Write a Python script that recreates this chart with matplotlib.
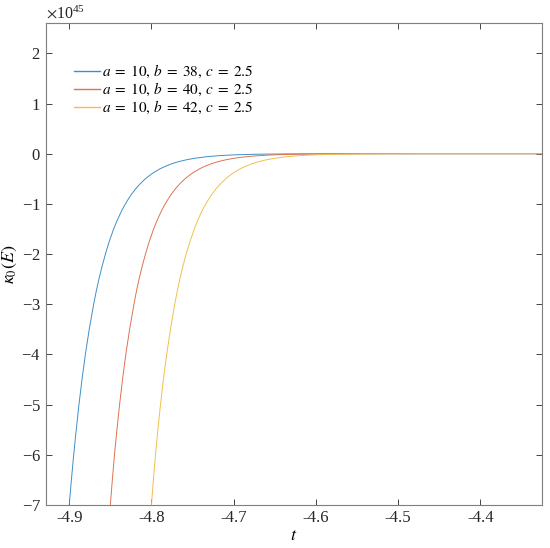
import matplotlib
matplotlib.use("Agg")
import matplotlib.pyplot as plt
from matplotlib.ticker import ScalarFormatter

plt.rcParams['font.family'] = ['Liberation Serif', 'DejaVu Serif']
plt.rcParams['mathtext.fontset'] = 'stix'
plt.rcParams['axes.unicode_minus'] = False

# curve values (y in units of 1e45)
y_levels = [-7, -6.5, -6, -5.5, -5, -4.5, -4, -3.5, -3, -2.75, -2.5, -2.25, -2,
            -1.75, -1.5, -1.35, -1.2, -1.1, -1, -0.9, -0.8, -0.7, -0.6, -0.5,
            -0.45, -0.38, -0.3, -0.25, -0.2, -0.16, -0.12, -0.09, -0.06, -0.04,
            -0.03, -0.02, -0.01, -0.004, 0, 0]
t_b38 = [-4.9000, -4.8974, -4.8946, -4.8915, -4.8882, -4.8845, -4.8804, -4.8757,
         -4.8703, -4.8673, -4.8639, -4.8602, -4.8560, -4.8514, -4.8460, -4.8423,
         -4.8381, -4.8351, -4.8317, -4.8280, -4.8239, -4.8192, -4.8138, -4.8074,
         -4.8037, -4.7978, -4.7895, -4.7831, -4.7753, -4.7675, -4.7573, -4.7472,
         -4.7330, -4.7188, -4.7087, -4.6945, -4.6701, -4.6380, -4.57, -4.325]
t_b40 = [-4.8500, -4.8476, -4.8450, -4.8420, -4.8388, -4.8352, -4.8312, -4.8266,
         -4.8213, -4.8184, -4.8151, -4.8114, -4.8073, -4.8027, -4.7974, -4.7937,
         -4.7896, -4.7866, -4.7833, -4.7796, -4.7755, -4.7709, -4.7655, -4.7592,
         -4.7555, -4.7496, -4.7414, -4.7350, -4.7272, -4.7194, -4.7093, -4.6992,
         -4.6850, -4.6708, -4.6607, -4.6465, -4.6221, -4.5900, -4.52, -4.325]
t_b42 = [-4.8000, -4.7977, -4.7951, -4.7922, -4.7890, -4.7855, -4.7815, -4.7769,
         -4.7717, -4.7688, -4.7655, -4.7619, -4.7578, -4.7532, -4.7479, -4.7443,
         -4.7402, -4.7372, -4.7339, -4.7302, -4.7261, -4.7215, -4.7161, -4.7098,
         -4.7061, -4.7002, -4.6920, -4.6856, -4.6778, -4.6700, -4.6599, -4.6498,
         -4.6356, -4.6214, -4.6113, -4.5971, -4.5727, -4.5406, -4.47, -4.325]
labels = ['$a\\;=\\;10,\\,b\\;=\\;38,\\,c\\;=\\;2.5$',
          '$a\\;=\\;10,\\,b\\;=\\;40,\\,c\\;=\\;2.5$',
          '$a\\;=\\;10,\\,b\\;=\\;42,\\,c\\;=\\;2.5$']
colors = ['#3D8FC9', '#DE7350', '#F0C04F']

fig = plt.figure(figsize=(5.5, 5.48), dpi=100)
ax = fig.add_axes([0.083, 0.0785, 0.9025, 0.880])

scale = 1e45
for t, lab, col in zip([t_b38, t_b40, t_b42], labels, colors):
    ax.plot(t, [v * scale for v in y_levels], color=col, lw=0.7, label=lab)

ax.set_xlim(-4.9287, -4.325)
ax.set_ylim(-7 * scale, 2.61 * scale)
ax.set_xticks([-4.9, -4.8, -4.7, -4.6, -4.5, -4.4])
ax.set_xticklabels(['-4.9', '-4.8', '-4.7', '-4.6', '-4.5', '-4.4'])
ax.set_yticks([k * scale for k in range(-7, 3)])

fmt = ScalarFormatter(useMathText=True)
fmt.set_powerlimits((0, 0))
ax.yaxis.set_major_formatter(fmt)
ax.yaxis.get_offset_text().set_fontsize(11.5)

ax.tick_params(direction='in', top=True, right=True, labelsize=12,
               colors='#262626', length=4, width=0.6)
for s in ax.spines.values():
    s.set_color('#7f7f7f')
    s.set_linewidth(0.8)

ax.set_xlabel('$t$', fontsize=13, labelpad=1)
ax.set_ylabel('$\\kappa_0(E)$', fontsize=13, labelpad=2)

leg = ax.legend(loc='upper left', frameon=False, fontsize=11,
                handlelength=1.7, handletextpad=0.1, labelspacing=0.05,
                bbox_to_anchor=(0.03, 0.945))
for h in leg.get_lines():
    h.set_linewidth(1.0)

fig.savefig('out.png', dpi=100)
